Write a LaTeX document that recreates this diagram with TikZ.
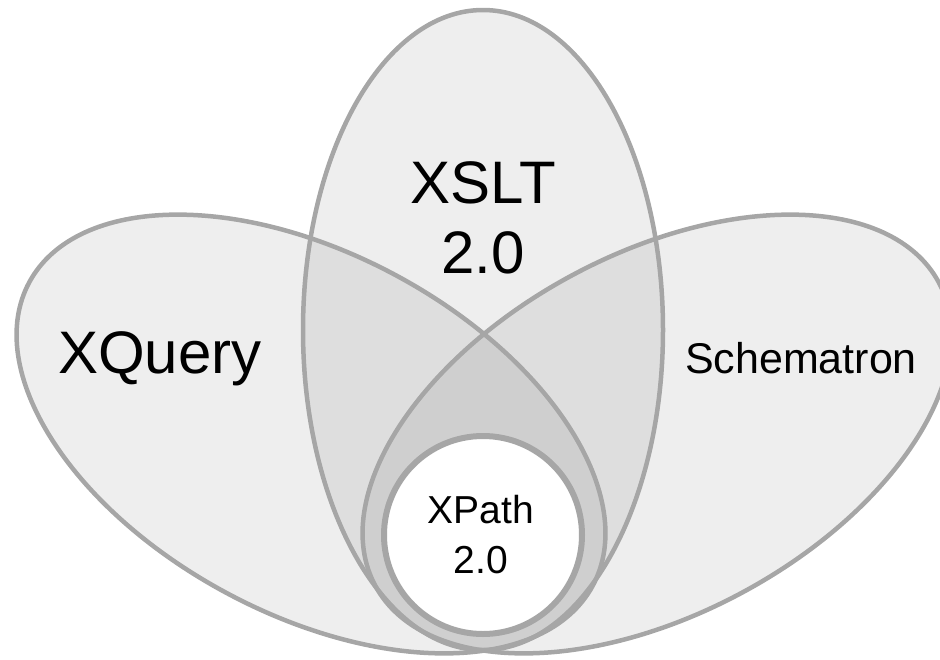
\documentclass[tikz,border=0pt]{standalone}
\usepackage{fontspec}
\setmainfont{Liberation Sans}
\definecolor{linegray}{HTML}{A6A6A6}
\tikzset{
  petalfill/.style={fill=black, fill opacity=0.065},
  petalline/.style={draw=linegray, line width=4.5pt},
  biglbl/.style={font=\fontsize{60}{70}\selectfont, inner sep=0pt, anchor=base, align=center, text=black},
  midlbl/.style={font=\fontsize{43}{50}\selectfont, inner sep=0pt, anchor=base, align=center, text=black},
  smalllbl/.style={font=\fontsize{39}{50}\selectfont, inner sep=0pt, anchor=base, align=center, text=black}
}
\begin{document}
\begin{tikzpicture}[x=1pt,y=-1pt]
\useasboundingbox (0,0) rectangle (940,659);
\begin{scope}
\clip (0,0) rectangle (940,659);
% fills
\fill[petalfill] (483,330) ellipse [x radius=180pt, y radius=320pt];
\fill[petalfill, rotate around={-28.3:(311,434)}] (311,434) ellipse [x radius=320pt, y radius=180pt];
\fill[petalfill, rotate around={28.3:(657,434)}] (657,434) ellipse [x radius=320pt, y radius=180pt];
% outlines
\draw[petalline] (483,330) ellipse [x radius=180pt, y radius=320pt];
\draw[petalline, rotate around={-28.3:(311,434)}] (311,434) ellipse [x radius=320pt, y radius=180pt];
\draw[petalline, rotate around={28.3:(657,434)}] (657,434) ellipse [x radius=320pt, y radius=180pt];
% XPath circle
\draw[fill=white, draw=linegray, line width=6pt] (483,535) circle [radius=99pt];
\end{scope}
\node[biglbl] (xslt) at (483,273) {XSLT\\2.0};
\node[biglbl] (xquery) at (160,373) {XQuery};
\node[midlbl] (schematron) at (801,373) {Schematron};
\node[smalllbl] (xpath) at (481,573) {XPath\\2.0};
\end{tikzpicture}
\end{document}
